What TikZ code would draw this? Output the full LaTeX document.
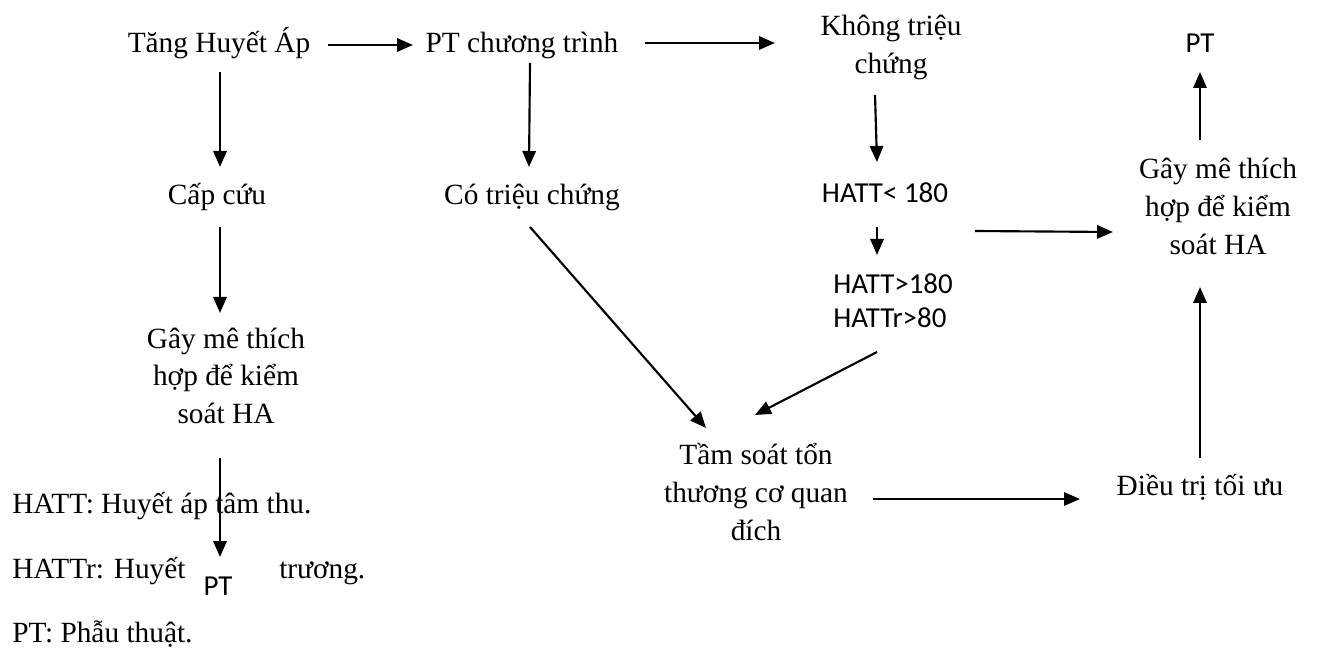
\documentclass[tikz,border=0pt]{standalone}
\usepackage{fontspec}
\setmainfont{Liberation Serif}
\newfontfamily\calfont{Carlito}
\usetikzlibrary{arrows.meta,calc}
\begin{document}
\begin{tikzpicture}[x=0.75pt,y=-0.75pt,
  txt/.style={font=\fontsize{22}{28.5}\selectfont, inner sep=0pt, align=center, anchor=base},
  stxt/.style={font=\calfont\fontsize{21.7}{26.2}\selectfont, inner sep=0pt, anchor=base},
  arr/.style={line width=1.6pt, -{Triangle[length=12pt,width=10pt]}}]
\useasboundingbox (0,0) rectangle (1317,648);
% legend
\node[txt, anchor=base west] (leg1) at (12,513) {HATT: Huyết áp tâm thu.};
\node[txt, anchor=base west] (leg2) at (12,578) {HATTr: Huyết áp tâm trương.};
\node[txt, anchor=base west] (leg3) at (12,642) {PT: Phẫu thuật.};
% nodes (base = baseline of last line)
\node[txt] (tang) at (219,53) {Tăng Huyết Áp};
\node[txt] (ptct) at (522,53) {PT chương trình};
\node[txt] (khong) at (891,74) {Không triệu\\chứng};
\node[stxt] (pttop) at (1200,53) {PT};
\node[txt] (capcuu) at (217,205) {Cấp cứu};
\node[txt] (cotc) at (532,205) {Có triệu chứng};
\node[stxt] (hlt) at (885,203) {HATT< 180};
\node[stxt, align=left, anchor=base west] (hgt) at (833,328) {HATT>180\\HATTr>80};
\node[txt] (gaymeR) at (1218,255) {Gây mê thích\\hợp để kiểm\\soát HA};
\node[txt] (gaymeL) at (226,424) {Gây mê thích\\hợp để kiểm\\soát HA};
\node[txt] (tamsoat) at (756,540) {Tầm soát tổn\\thương cơ quan\\đích};
\node[txt] (dieutri) at (1200,495) {Điều trị tối ưu};
\fill[white] (186,554) rectangle (277,602);
\node[stxt] (ptbot) at (218,595) {PT};
% connectors
\draw[arr] ($(tang.base)+(109,-8)$) -- ($(ptct.base)+(-109,-8)$);
\draw[arr] ($(ptct.base)+(123,-10)$) -- ($(ptct.base)+(253,-10)$);
\draw[arr] ($(tang.base)+(1,19)$) -- ($(capcuu.base)+(3,-38)$);
\draw[arr] ($(ptct.base)+(8,10)$) -- ($(cotc.base)+(-3,-38)$);
\draw[arr] ($(khong.base)+(-16,21)$) -- ($(hlt.base)+(-8,-41)$);
\draw[arr] ($(hlt.base)+(-8,24)$) -- ($(hgt.base west)+(44,-73)$);
\draw[arr] ($(hlt.base)+(90,28)$) -- ($(gaymeR.base)+(-105,-23)$);
\draw[arr] ($(capcuu.base)+(3,22)$) -- ($(gaymeL.base)+(-6,-111)$);
\draw[arr] ($(gaymeL.base)+(-6,34)$) -- ($(ptbot.base)+(2,-38)$);
\draw[arr] ($(cotc.base)+(-2,22)$) -- ($(tamsoat.base)+(-50,-112)$);
\draw[arr] ($(hgt.base west)+(44,24)$) -- ($(tamsoat.base)+(-1,-125)$);
\draw[arr] ($(tamsoat.base)+(117,-41)$) -- ($(dieutri.base)+(-120,4)$);
\draw[arr] ($(dieutri.base)+(0,-37)$) -- ($(gaymeR.base)+(-18,32)$);
\draw[arr] ($(gaymeR.base)+(-18,-115)$) -- ($(pttop.base)+(0,19)$);
\end{tikzpicture}
\end{document}
